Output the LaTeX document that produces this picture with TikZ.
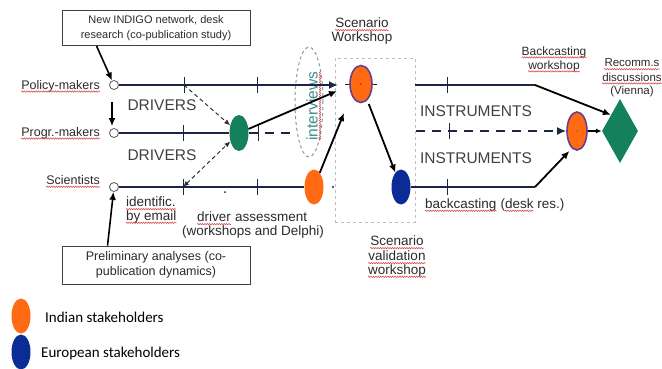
\documentclass[tikz,border=0pt]{standalone}
\usepackage{fontspec}
\setmainfont{Liberation Sans}
\newfontfamily\legendfont{Carlito}
\usetikzlibrary{shapes.geometric,arrows.meta,calc,decorations.pathmorphing}
\definecolor{navy}{HTML}{1C2541}
\definecolor{orangeI}{HTML}{FF6A13}
\definecolor{purpleB}{HTML}{6B3E8E}
\definecolor{blueE}{HTML}{0B2B96}
\definecolor{greenD}{HTML}{15805C}
\definecolor{tealt}{HTML}{3C8C8C}
\definecolor{dashg}{HTML}{7E9C9C}
\definecolor{textgray}{HTML}{2B2B2B}
\definecolor{drvgray}{HTML}{404040}
\definecolor{wavered}{HTML}{D84040}
\pgfdeclarelayer{bg}
\pgfsetlayers{bg,main}
\begin{document}
\begin{tikzpicture}[x=1pt,y=-1pt,
  txt/.style={text=textgray, inner sep=0pt, align=center},
  hub/.style={circle, draw=gray!70!black, fill=white, line width=0.8pt, minimum size=9pt, inner sep=0pt},
  lbox/.style={draw=black!75, line width=0.9pt, fill=white, align=center, minimum width=188pt, inner sep=0pt, text=textgray},
  mainln/.style={draw=navy, line width=2.2pt},
  dashln/.style={draw=navy, line width=2.2pt, dash pattern=on 9pt off 7pt},
  blk/.style={draw=black, line width=1.8pt, -{Latex[length=8pt,width=7pt]}},
  dotarr/.style={draw=black!80, line width=1pt, dash pattern=on 4pt off 3pt},
  tickln/.style={draw=navy, line width=0.9pt},
  indian/.style={ellipse, fill=orangeI, minimum width=19pt, minimum height=35pt, inner sep=0pt},
  european/.style={ellipse, fill=blueE, minimum width=19pt, minimum height=35pt, inner sep=0pt},
  wsnode/.style={indian, draw=purpleB, line width=1.6pt},
  bigtxt/.style={txt, text=drvgray, font=\fontsize{15.5}{17}\selectfont},
  sm/.style={txt, font=\fontsize{13.5}{15}\selectfont},
  squig/.style={draw=wavered, line width=0.5pt, decorate, decoration={snake, amplitude=0.7pt, segment length=2.4pt}}
]
\begin{pgfonlayer}{bg}
\fill[white] (0,0) rectangle (662,368);
\end{pgfonlayer}
\useasboundingbox (0,0) rectangle (662,368);

% scenario box and interviews ellipse
\node[draw=gray!50, dashed, line width=0.7pt, minimum width=80pt, minimum height=164pt, inner sep=0pt] (scbox) at (375,140) {};
\node[ellipse, draw=dashg, dashed, line width=1pt, minimum width=28pt, minimum height=110pt, inner sep=0pt] (intv) at (309,102) {};
\node[rotate=90, text=tealt, font=\fontsize{15.5}{16}\selectfont, inner sep=0pt] (intvt) at (312,106) {interviews};
\draw[squig] ([xshift=2.5pt]intvt.base west) -- ([xshift=2.5pt]intvt.base east);

% coordinates
\coordinate (swin) at (338,85);
\coordinate (swin2) at (337,91);
\coordinate (swin3) at (344,113);
\coordinate (gdash) at (291,133);
\coordinate (tr1) at (415,85);
\coordinate (tr2) at (535,85);
\coordinate (mr1) at (416,131);
\coordinate (br2) at (535,187);
\coordinate (tk1) at (184,85);
\coordinate (tk4) at (183,187);

% stakeholder hubs
\node[hub] (cpm) at (114,85) {};
\node[hub] (cpg) at (114,133) {};
\node[hub] (csc) at (114,187) {};
\node[txt, anchor=east, font=\fontsize{12.5}{14}\selectfont] (lpm) at (100,86) {Policy-makers};
\node[txt, anchor=east, font=\fontsize{12.5}{14}\selectfont] (lpg) at (100,133) {Progr.-makers};
\node[txt, anchor=east, font=\fontsize{12.5}{14}\selectfont] (lsc) at (100,180) {Scientists};

% ellipses
\node[ellipse, fill=greenD, minimum width=19pt, minimum height=36pt, inner sep=0pt] (grn) at (239,133) {};
\node[indian] (or1) at (314,187) {};
\node[wsnode, minimum width=22pt, minimum height=37pt] (sw) at (361,84) {};
\node[european] (eu) at (401,187) {};
\node[wsnode, minimum width=20pt, minimum height=38pt] (bw) at (577,131) {};
\node[diamond, fill=greenD, aspect=0.56, minimum width=36pt, minimum height=64pt, inner sep=0pt] (dia) at (620,131) {};

\begin{pgfonlayer}{bg}
\draw[navy, line width=0.7pt] ([xshift=-4pt]sw.west) -- ([xshift=4pt]sw.east);
\end{pgfonlayer}
\fill[red] (sw.center) circle[radius=0.8pt];
\fill[black!70] (bw.center) circle[radius=0.7pt];

% main lines
\draw[mainln, -{Latex[length=9pt,width=8pt]}] (cpm) -- (swin);
\draw[mainln] (cpg) -- (grn);
\draw[dashln] (grn) -- (gdash);
\draw[mainln] (csc) -- (or1);
\draw[mainln] (tr1) -- (tr2);
\draw[blk] (tr2) -- (dia.north west);
\draw[dashln, -{Latex[length=9pt,width=8pt]}] (mr1) -- (bw);
\draw[mainln] (eu) -- (br2);
\draw[blk] (br2) -- ([yshift=-6pt]bw.south west);
\draw[black, line width=1.2pt, -{Latex[length=6pt,width=5pt]}] (bw) -- (dia);

% ticks
\foreach \x/\y in {184/85, 257/85, 183/133, 258/133, 183/187, 257/187, 447/85, 449/131, 447/187}
  \draw[tickln] (\x,\y-8) -- (\x,\y+8);
\fill[navy] (225,192) circle[radius=1pt];
\fill[navy] (333,187) circle[radius=1.2pt];

% black arrows
\draw[blk] (grn) -- (swin2);
\draw[blk] (or1) -- (swin3);
\draw[blk, shorten <=4pt] (sw) -- (eu);

% dashed thin arrows
\draw[dotarr, -{Latex[length=6pt,width=5pt]}] (tk1) -- (grn);
\draw[dotarr, {Latex[length=6pt,width=5pt]}-{Latex[length=6pt,width=5pt]}] (tk4) -- (grn);

% boxes
\node[lbox, minimum height=35pt, font=\fontsize{11}{15}\selectfont] (b1) at (156,28) {New INDIGO network, desk\\research (co-publication study)};
\node[lbox, minimum height=38pt, font=\fontsize{12.5}{14.5}\selectfont] (b2) at (156,265) {Preliminary analyses (co-\\publication dynamics)};
\draw[blk, line width=1.6pt] ([xshift=35pt]b1.south west) -- (cpm);
\draw[blk, line width=1.6pt] ([xshift=46pt]b2.north west) -- (csc);
\draw[blk, line width=1.4pt, shorten <=12pt, shorten >=2pt] ([xshift=-2pt]cpm.south) -- ([xshift=-2pt]cpg.north);

% texts
\node[bigtxt] (d1) at (162,105) {DRIVERS};
\node[bigtxt] (d2) at (162,155) {DRIVERS};
\node[bigtxt] (i1) at (476,111) {INSTRUMENTS};
\node[bigtxt] (i2) at (476,158) {INSTRUMENTS};
\node[sm] (swl1) at (362,23) {Scenario};
\node[sm] (swl2) at (362,38) {Workshop};
\node[txt, font=\fontsize{12}{14}\selectfont] (bwl1) at (554,52) {Backcasting};
\node[txt, font=\fontsize{12}{14}\selectfont] (bwl2) at (554,66) {workshop};
\node[txt, font=\fontsize{11.5}{14}\selectfont] (rcl1) at (632,63) {Recomm.s};
\node[txt, font=\fontsize{11.5}{14}\selectfont] (rcl2) at (632,77) {discussions};
\node[txt, font=\fontsize{11.5}{14}\selectfont] (rcl3) at (632,92) {(Vienna)};
\node[sm, anchor=west] (id1) at (126,202) {identific.};
\node[sm, anchor=west] (id2) at (126,217) {by email};
\node[sm, anchor=west] (da1) at (197,217) {driver};
\node[sm, anchor=base west] (da2) at ([xshift=3.75pt]da1.base east) {assessment};
\node[sm] (da3) at (253,232) {(workshops and Delphi)};
\node[sm, anchor=west] (bc1) at (425,205) {backcasting};
\node[sm, anchor=base west] (bc2) at ([xshift=3.75pt]bc1.base east) {(desk res.)};
\node[sm] (sv1) at (397,241) {Scenario};
\node[sm] (sv2) at (397,256) {validation};
\node[sm] (sv3) at (397,271) {workshop};

% spell-check squiggles
\foreach \n in {lpm,lpg,lsc,swl1,bwl1,bwl2,rcl1,rcl2,id1,id2,da1,bc1,sv1,sv2,sv3}
  \draw[squig] ([yshift=-2.3pt]\n.base west) -- ([yshift=-2.3pt]\n.base east);
\draw[squig] ([xshift=4.5pt,yshift=-2.3pt]bc2.base west) -- ++(28.5,0);

% legend
\node[indian] (lgi) at (21,316) {};
\node[european] (lge) at (21,352) {};
\node[anchor=west, inner sep=0pt, font=\legendfont\fontsize{15}{17}\selectfont] (lgit) at (45,317) {Indian stakeholders};
\node[anchor=west, inner sep=0pt, font=\legendfont\fontsize{15}{17}\selectfont] (lget) at (41,353) {European stakeholders};
\end{tikzpicture}
\end{document}
